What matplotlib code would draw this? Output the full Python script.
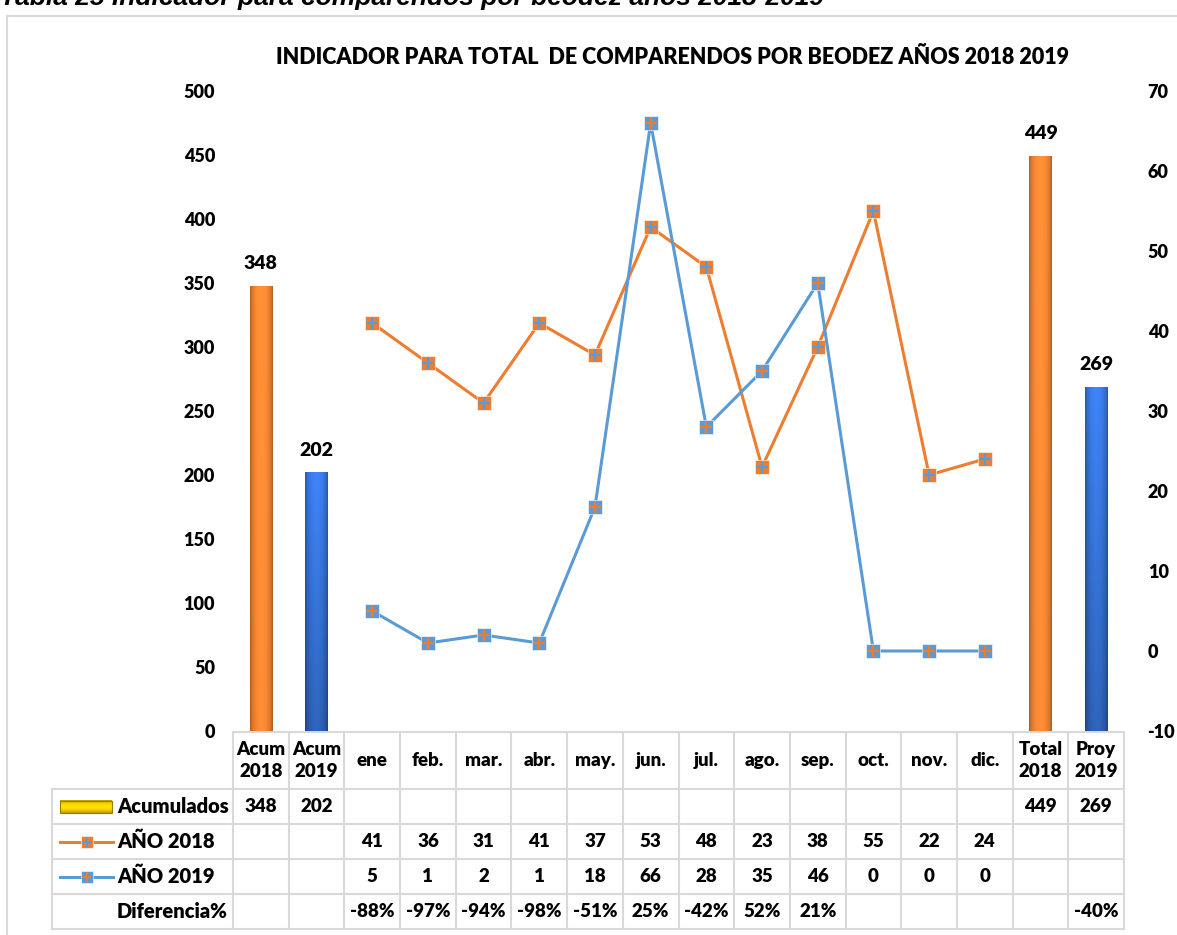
import matplotlib
matplotlib.use("Agg")
import matplotlib.pyplot as plt
import numpy as np
from matplotlib.transforms import blended_transform_factory
from matplotlib.lines import Line2D
from matplotlib.patches import Rectangle

# ---------------- data ----------------
categories = ["Acum\n2018", "Acum\n2019", "ene", "feb.", "mar.", "abr.", "may.", "jun.",
              "jul.", "ago.", "sep.", "oct.", "nov.", "dic.", "Total\n2018", "Proy\n2019"]
acumulados = [348, 202, None, None, None, None, None, None, None, None, None, None, None, None, 449, 269]
anio_2018 = [41, 36, 31, 41, 37, 53, 48, 23, 38, 55, 22, 24]
anio_2019 = [5, 1, 2, 1, 18, 66, 28, 35, 46, 0, 0, 0]
diferencia = ["", "", "-88%", "-97%", "-94%", "-98%", "-51%", "25%", "-42%", "52%", "21%",
              "", "", "", "", "-40%"]
left_ticks = [0, 50, 100, 150, 200, 250, 300, 350, 400, 450, 500]
right_ticks = [-10, 0, 10, 20, 30, 40, 50, 60, 70]
row_labels = ["Acumulados", "AÑO 2018", "AÑO 2019", "Diferencia%"]
title = "INDICADOR PARA TOTAL  DE COMPARENDOS POR BEODEZ AÑOS 2018 2019"
caption = "Tabla 25 Indicador para comparendos por beodez años 2018-2019"

ORANGE = "#ED7D31"
BLUE = "#5B9BD5"
BAR_OR = (0.97, 0.53, 0.20)
BAR_BL = (0.22, 0.47, 0.88)
GRID = "#D9D9D9"
FS_TAB = 13.5
FS_TICK = 13
WT = 'heavy'

W, H = 1177, 935
fig = plt.figure(figsize=(W / 100, H / 100), dpi=100)
plt.rcParams['font.family'] = ['Lato', 'DejaVu Sans']
plt.rcParams['axes.unicode_minus'] = False

def fx(px):
    return px / W

def fy(py):
    return 1 - py / H

AX_L, AX_R, AX_T, AX_B = 233, 1124, 91, 731
ax = fig.add_axes([fx(AX_L), fy(AX_B), (AX_R - AX_L) / W, (AX_B - AX_T) / H])
ax2 = ax.twinx()

n = len(categories)

# ---------------- bars ----------------
bar_idx = [i for i, v in enumerate(acumulados) if v is not None]
bar_vals = [acumulados[i] for i in bar_idx]
bar_cols = [BAR_OR if "2018" in categories[i] else BAR_BL for i in bar_idx]
bars = ax.bar(bar_idx, bar_vals, width=0.4, color=bar_cols, linewidth=0, zorder=2)

for patch, base, idx in zip(bars.patches, bar_cols, bar_idx):
    x0, y0 = patch.get_x(), patch.get_y()
    w, h = patch.get_width(), patch.get_height()
    gx = np.linspace(0, 1, 40)
    gy = np.linspace(0, 1, 80)
    hprof = 0.70 + 0.38 * np.sin(np.pi * gx) ** 0.6
    if "2018" in categories[idx]:
        vprof = 0.97 + 0.03 * gy
    else:
        vprof = 0.78 + 0.25 * gy
    prof = vprof[:, None] * hprof[None, :]
    img = np.clip(np.array(base)[None, None, :] * prof[:, :, None], 0, 1)
    im = ax.imshow(img, extent=[x0, x0 + w, y0, y0 + h], origin='lower',
                   aspect='auto', zorder=2.5, interpolation='bilinear')
    im.set_clip_path(patch)
    ax.annotate(str(acumulados[idx]), (idx, acumulados[idx]), xytext=(0, 10),
                textcoords='offset points', ha='center', va='bottom',
                fontsize=14, fontweight=WT, color='black')

ax.set_xlim(-0.5, n - 0.5)
ax.set_ylim(0, 500)
ax.set_yticks(left_ticks)
ax.set_xticks([])
ax.set_aspect('auto')

# ---------------- lines ----------------
month_idx = np.arange(2, 2 + len(anio_2018))
for vals, lc, pc in [(anio_2018, ORANGE, BLUE), (anio_2019, BLUE, ORANGE)]:
    ax2.plot(month_idx, vals, color=lc, lw=2.2, marker='s', ms=10, mfc=lc,
             mec='white', mew=0.4, zorder=3)
    ax2.plot(month_idx, vals, ls='none', marker='+', ms=8, mew=1.6, color=pc, zorder=4)

ax2.set_ylim(-10, 70)
ax2.set_yticks(right_ticks)
ax2.set_xlim(-0.5, n - 0.5)

for a in (ax, ax2):
    for s in a.spines.values():
        s.set_visible(False)
ax.tick_params(axis='y', length=0, pad=13, labelsize=FS_TICK)
ax2.tick_params(axis='y', length=0, pad=17, labelsize=FS_TICK)
for lab in ax.get_yticklabels() + ax2.get_yticklabels():
    lab.set_fontweight(WT)

# ---------------- title / caption / frame ----------------
fig.text(fx(672), fy(57), title, ha='center', va='center', fontsize=15.5, fontweight=WT)
fig.text(fx(0), fy(5), caption, ha='left', va='baseline', fontsize=19, fontweight='bold',
         style='italic', family=['Liberation Sans', 'DejaVu Sans'])
fig.add_artist(Line2D([fx(7), fx(7)], [fy(16), fy(935)], color=GRID, lw=1.5,
                      transform=fig.transFigure))
fig.add_artist(Line2D([fx(7), fx(1177)], [fy(16), fy(16)], color=GRID, lw=1.5,
                      transform=fig.transFigure))

# ---------------- data table ----------------
trans = blended_transform_factory(ax.transData, ax.transAxes)

def ay(py):
    return (AX_B - py) / (AX_B - AX_T)

def dx(px):
    return -0.5 + (px - AX_L) / ((AX_R - AX_L) / n)

rows_py = [732, 789, 824, 859, 894, 929]
left_col = dx(52)

lk = dict(color=GRID, lw=1.5, transform=trans, clip_on=False)
ax.add_line(Line2D([-0.5, n - 0.5], [ay(rows_py[0])] * 2, **lk))
for py in rows_py[1:]:
    ax.add_line(Line2D([left_col, n - 0.5], [ay(py)] * 2, **lk))
for k in range(n + 1):
    ax.add_line(Line2D([k - 0.5, k - 0.5], [ay(rows_py[0]), ay(rows_py[-1])], **lk))
ax.add_line(Line2D([left_col, left_col], [ay(rows_py[1]), ay(rows_py[-1])], **lk))

tk = dict(transform=trans, ha='center', va='center', fontsize=FS_TAB, fontweight=WT,
          clip_on=False)
hdr_y = ay((rows_py[0] + rows_py[1]) / 2)
for i, c in enumerate(categories):
    ax.text(i, hdr_y, c, linespacing=1.3, **tk)

row_centers = [ay((rows_py[r] + rows_py[r + 1]) / 2) for r in range(1, 5)]
for i, v in enumerate(acumulados):
    if v is not None:
        ax.text(i, row_centers[0], str(v), **tk)
for j, v in enumerate(anio_2018):
    ax.text(month_idx[j], row_centers[1], str(v), **tk)
for j, v in enumerate(anio_2019):
    ax.text(month_idx[j], row_centers[2], str(v), **tk)
for i, v in enumerate(diferencia):
    if v:
        ax.text(i, row_centers[3], v, **tk)

for r, lab in enumerate(row_labels):
    ax.text(dx(117), row_centers[r], lab, transform=trans, ha='left', va='center',
            fontsize=14.5, fontweight=WT, clip_on=False)

# Acumulados key: yellow gradient rectangle
key_x0, key_x1 = dx(60), dx(112)
ky0 = row_centers[0] - 6 / (AX_B - AX_T)
ky1 = row_centers[0] + 6 / (AX_B - AX_T)
grad = np.linspace(0, 1, 20)
yel = np.clip(np.array([1.0, 0.84, 0.0])[None, None, :] *
              (0.75 + 0.3 * np.sin(np.pi * grad))[:, None, None], 0, 1)
ax.imshow(yel, extent=[key_x0, key_x1, ky0, ky1], origin='lower', aspect='auto',
          transform=trans, zorder=5, clip_on=False)
ax.add_patch(Rectangle((key_x0, ky0), key_x1 - key_x0, ky1 - ky0, fill=False,
                       ec='#9C7A00', lw=0.8, transform=trans, clip_on=False, zorder=6))
ax.set_xlim(-0.5, n - 0.5)
ax.set_ylim(0, 500)

for r, lc, pc in [(1, ORANGE, BLUE), (2, BLUE, ORANGE)]:
    ax.add_line(Line2D([dx(60), dx(113)], [row_centers[r]] * 2, color=lc, lw=2.2,
                       transform=trans, clip_on=False))
    ax.add_line(Line2D([dx(86.5)], [row_centers[r]], marker='s', ms=9, mfc=lc, mec='white',
                       mew=0.4, ls='none', transform=trans, clip_on=False))
    ax.add_line(Line2D([dx(86.5)], [row_centers[r]], marker='+', ms=7, mew=1.5, color=pc,
                       ls='none', transform=trans, clip_on=False))

fig.savefig("out.png", dpi=100)
